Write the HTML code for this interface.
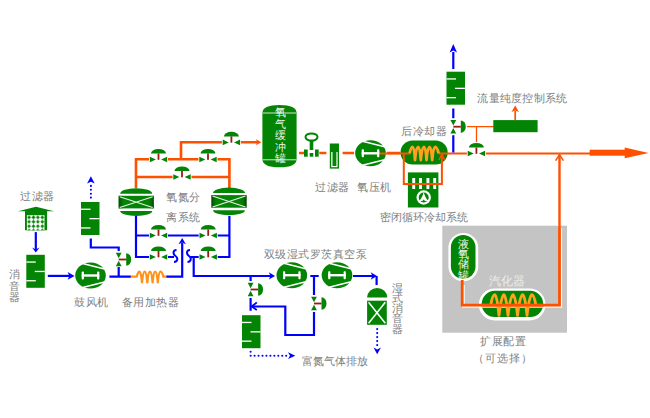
<!DOCTYPE html>
<html><head><meta charset="utf-8">
<style>
html,body{margin:0;padding:0;background:#fff;width:650px;height:418px;overflow:hidden}
svg{display:block;position:absolute;left:0;top:0}
text{font-family:"Liberation Sans",sans-serif;font-size:11px;fill:#7e7e7e;letter-spacing:0.5px}
.w{fill:#f2f6f2;letter-spacing:0}
.v{letter-spacing:0}
</style></head><body>
<svg width="650" height="418" viewBox="0 0 650 418">
<defs>
  <linearGradient id="adsg" x1="0" x2="1" y1="0" y2="0">
    <stop offset="0" stop-color="#033a03" stop-opacity="0.9"/>
    <stop offset="0.18" stop-color="#048404" stop-opacity="0"/>
    <stop offset="0.82" stop-color="#048404" stop-opacity="0"/>
    <stop offset="1" stop-color="#033a03" stop-opacity="0.9"/>
  </linearGradient>
  <pattern id="mesh" patternUnits="userSpaceOnUse" x="26.9" y="215.2" width="4.4" height="4.4">
    <rect x="0" y="0" width="4.4" height="4.4" fill="#fff"/>
    <path d="M2.2,0.3 L4.1,2.2 L2.2,4.1 L0.3,2.2Z" fill="#048404"/>
  </pattern>
  <!-- horizontal valve: centered at 0,0 on pipe -->
  <g id="vh">
    <rect x="-9.5" y="-2" width="19" height="4" fill="#fff"/>
    <path d="M-7.5,-6 A7.5,4.6 0 0 1 7.5,-6 Z" fill="#048404"/>
    <rect x="-0.9" y="-6" width="1.8" height="6.3" fill="#9a1c14"/>
    <path d="M-8.7,-2.8 L-2.6,0 L-8.7,2.8 Z M8.7,-2.8 L2.6,0 L8.7,2.8 Z" fill="#048404"/>
  </g>
  <!-- vertical valve with dome on right -->
  <g id="vv">
    <rect x="-2" y="-8.5" width="4" height="17" fill="#fff"/>
    <path d="M7.5,-6.2 A5,6.2 0 0 1 7.5,6.2 Z" fill="#048404"/>
    <rect x="0" y="-0.9" width="7.5" height="1.8" fill="#9a1c14"/>
    <path d="M-2.9,-6.8 L0,-1.3 L2.9,-6.8 Z M-2.9,6.8 L0,1.3 L2.9,6.8 Z" fill="#048404"/>
  </g>
  <!-- muffler 18x33 -->
  <g id="muf">
    <rect x="0" y="0" width="18.5" height="33" fill="#048404"/>
    <rect x="0" y="6.6" width="9.5" height="1.3" fill="#fff"/>
    <rect x="8.5" y="16" width="10" height="1.3" fill="#fff"/>
    <rect x="0" y="25.3" width="9.5" height="1.3" fill="#fff"/>
  </g>
  <!-- blower / compressor centered -->
  <g id="blw">
    <ellipse cx="0" cy="0" rx="15.3" ry="13" fill="#048404"/>
    <path d="M-8,-12 L16,-6 M-8,12 L16,6" stroke="#fff" stroke-width="1.4" fill="none"/>
    <rect x="-8.8" y="-1.2" width="17.6" height="2.4" fill="#fff"/>
    <rect x="-8.8" y="-4" width="2.2" height="8" rx="0.8" fill="#fff"/>
    <rect x="6.6" y="-4" width="2.2" height="8" rx="0.8" fill="#fff"/>
  </g>
  <!-- adsorber centered at box center -->
  <g id="ads">
    <path d="M-16,-8.5 A16,5.6 0 0 1 16,-8.5 Z" fill="#048404"/>
    <path d="M-16,8.7 A16,5 0 0 0 16,8.7 Z" fill="#048404"/>
    <rect x="-17.5" y="-6.5" width="35" height="12.6" fill="#048404"/>
    <rect x="-17.5" y="-6.5" width="35" height="12.6" fill="url(#adsg)"/>
    <path d="M-16.5,-5.5 L16.5,5.3 M-16.5,5.3 L16.5,-5.5" stroke="#e8f0e8" stroke-width="1.1"/>
  </g>
</defs>

<!-- ===== left: filter, muffler, blower ===== -->
<text x="20" y="199.5">过滤器</text>
<path d="M18,211.2 L36,206.8 L54,211.2 L47.1,211.2 L47.1,230.3 L25,230.3 L25,211.2 Z" fill="#048404"/>
<rect x="26.9" y="215.2" width="17.6" height="15.1" fill="url(#mesh)"/>
<path d="M35.8,232.1 L35.8,250" stroke="#0000ff" stroke-width="2.2"/>
<path d="M32,247.6 L35.8,252.4 L39.6,247.6 L35.8,249.4 Z" fill="#0000ff"/>
<use href="#muf" x="26.3" y="254.8"/>
<text class="v" x="8.5" y="278">消</text><text class="v" x="8.5" y="289.5">音</text><text class="v" x="8.5" y="301">器</text>
<path d="M47.8,275.9 L71,275.9" stroke="#0000ff" stroke-width="2.2"/>
<path d="M67.6,272 L74.6,275.9 L67.6,279.7 L69.4,275.9 Z" fill="#0000ff"/>
<use href="#blw" x="90.5" y="275.5"/>
<text x="74" y="305.7">鼓风机</text>

<!-- muffler 2 + dotted arrow -->
<use href="#muf" x="81" y="202"/>
<path d="M90.9,197.6 L90.9,185.9" stroke="#0000ff" stroke-width="2.1" stroke-dasharray="0,3.9" stroke-linecap="round"/>
<path d="M87.1,183.6 L90.9,176.3 L94.7,183.6 L90.9,181.8 Z" fill="#0000ff"/>
<path d="M90.8,238.5 L90.8,247.5 L118.7,247.5 L118.7,252" stroke="#0000ff" stroke-width="2.2" fill="none"/>
<use href="#vv" x="118.7" y="259.5"/>
<path d="M118.7,267 L118.7,276.6 M109.4,276.6 L131,276.6" stroke="#0000ff" stroke-width="2.2" fill="none"/>
<!-- heater coil -->
<path d="M130.6,276.6 L136.8,276.6 Q138,271.6 139.5,271.6 Q141,271.6 142,282.4 Q143,271.6 144.7,271.6 Q146.3,271.6 147.3,282.4 Q148.3,271.6 150,271.6 Q151.6,271.6 152.6,282.4 Q153.6,271.6 155.2,271.6 Q156.8,271.6 157.8,282.4 Q158.8,271.6 160.4,271.6 Q162,271.6 163.4,276.6 L167,276.6" stroke="#ff9218" stroke-width="2.3" fill="none" stroke-linejoin="round"/>
<path d="M166.5,276.6 L182.2,276.6 L182.2,243" stroke="#0000ff" stroke-width="2.2" fill="none"/>
<path d="M178.5,244.3 L182.2,238 L185.9,244.3 L182.2,242.6 Z" fill="#0000ff"/>
<text x="121.6" y="305.7">备用加热器</text>

<!-- ===== adsorbers and valve bank ===== -->
<path d="M136,188 L136,159.3 L229.4,159.3 L229.4,188 M136,177 L229.4,177 M181,159.3 L181,142.3 L257.5,142.3" stroke="#ff5000" stroke-width="2.6" fill="none"/>
<path d="M256,139.3 L261.4,142.3 L256,145.3 L257.2,142.3 Z" fill="#ff5000"/>
<use href="#vh" x="158.5" y="159.5"/>
<use href="#vh" x="208" y="159.5"/>
<use href="#vh" x="182" y="177"/>
<use href="#vh" x="231.4" y="142.4"/>
<use href="#ads" x="136.2" y="202.3"/>
<use href="#ads" x="229" y="201.6"/>
<text x="166" y="201">氧氮分</text>
<text x="166" y="220.5">离系统</text>

<path d="M136,216 L136,257 L174,257 M136,235.5 L229.4,235.5 M229.4,216 L229.4,257 L190,257 M193.7,257 L193.7,276 L271,276" stroke="#0000ff" stroke-width="2.2" fill="none"/>
<path d="M176.5,250 C173,250 172.5,254 175.5,256 C178.5,258 177.5,262 174,262" stroke="#0000ff" stroke-width="2" fill="none"/>
<path d="M190,250 C186.5,250 186,254 189,256 C192,258 191,262 187.5,262" stroke="#0000ff" stroke-width="2" fill="none"/>
<use href="#vh" x="158.5" y="235.5"/>
<use href="#vh" x="208.2" y="235.5"/>
<use href="#vh" x="158.5" y="257"/>
<use href="#vh" x="208.2" y="257"/>
<path d="M268.8,272.2 L275.1,275.9 L268.8,279.6 L270.5,275.9 Z" fill="#0000ff"/>

<!-- ===== vacuum pumps ===== -->
<text x="263.5" y="257.7">双级湿式罗茨真空泵</text>
<use href="#blw" x="291.8" y="275.2"/>
<use href="#blw" x="337" y="275.2"/>
<path d="M310.3,276 L318.7,276 M314,276 L314,296 M314,311 L314,335 L285.3,335 L285.3,306.5 L252,306.5" stroke="#0000ff" stroke-width="2.2" fill="none"/>
<use href="#vv" x="314" y="303.5"/>
<path d="M256.8,302.6 L251.6,306.4 L256.8,310" stroke="#0000ff" stroke-width="1.8" fill="none"/>
<path d="M250.6,276 L250.6,282 M250.6,297 L250.6,310.7" stroke="#0000ff" stroke-width="2.2" fill="none"/>
<use href="#vv" x="250.6" y="289.5"/>
<use href="#muf" x="242" y="315.2"/>
<path d="M250.6,351.8 L250.6,355.7 L287,355.7" stroke="#0000ff" stroke-width="2.1" stroke-dasharray="0,3.95" stroke-linecap="round" fill="none"/>
<path d="M288,352.3 L295.3,355.7 L288,359.1 L290,355.7 Z" fill="#0000ff"/>
<text x="301.5" y="365" style="letter-spacing:0">富氮气体排放</text>

<path d="M353,276 L373,276 M376.6,276 L376.6,285" stroke="#0000ff" stroke-width="2.2" fill="none"/>
<path d="M370.7,272.3 L377,276 L370.7,279.7 L372.4,276 Z" fill="#0000ff"/>
<!-- wet silencer -->
<path d="M367.1,297.6 A10.1,9.6 0 0 1 387.3,297.6 Z" fill="#048404"/>
<rect x="367.1" y="300.7" width="19.7" height="24.1" fill="#048404"/>
<path d="M368.6,302.2 L385.3,323.3 M385.3,302.2 L368.6,323.3" stroke="#fff" stroke-width="1.5"/>
<path d="M377.2,329.1 L377.2,345.2" stroke="#0000ff" stroke-width="2.1" stroke-dasharray="0,4" stroke-linecap="round"/>
<path d="M373.5,347.6 L377.2,354.3 L380.9,347.6 L377.2,349.5 Z" fill="#0000ff"/>
<text class="v" x="391.5" y="291.5">湿</text><text class="v" x="391.5" y="301.8">式</text><text class="v" x="391.5" y="312.1">消</text><text class="v" x="391.5" y="322.4">音</text><text class="v" x="391.5" y="332.7">器</text>

<!-- ===== buffer tank ===== -->
<path d="M262.4,113 Q262.4,105 279.5,105 Q296.6,105 296.6,113 L296.6,159 Q296.6,167.3 279.5,167.3 Q262.4,167.3 262.4,159 Z" fill="#048404"/>
<rect x="262.4" y="112.3" width="34.2" height="1.4" fill="#9cc89c"/>
<rect x="262.4" y="159" width="34.2" height="1.4" fill="#9cc89c"/>
<text class="w" x="274.5" y="116.3">氧</text><text class="w" x="274.5" y="127.7">气</text><text class="w" x="274.5" y="139.1">缓</text><text class="w" x="274.5" y="150.5">冲</text><text class="w" x="274.5" y="161.9">罐</text>

<!-- key valve, filter, compressor -->
<path d="M299,153 L304.3,153 M319.3,153 L326.4,153 M342.6,153 L354,153 M387,153 L400,153" stroke="#ff5000" stroke-width="2.6"/>
<ellipse cx="311.5" cy="137" rx="6" ry="3.6" fill="none" stroke="#048404" stroke-width="2"/>
<rect x="309.7" y="140" width="3.6" height="10" fill="#048404"/>
<rect x="304" y="149.5" width="3.7" height="7.2" fill="#048404"/>
<rect x="309.7" y="153" width="3.6" height="3.7" fill="#048404"/>
<rect x="315" y="149.5" width="3.7" height="7.2" fill="#048404"/>
<rect x="329.8" y="143.5" width="9.2" height="25.1" fill="#048404"/>
<rect x="331.2" y="152" width="6.4" height="15.2" fill="#fff"/>
<rect x="332.5" y="152" width="3.9" height="14" fill="#048404"/>
<text x="315" y="191">过滤器</text>
<use href="#blw" x="370.5" y="153.3"/>
<text x="357" y="191">氧压机</text>

<!-- ===== cooler ===== -->
<text x="401" y="135">后冷却器</text>
<rect x="400.5" y="140.5" width="47.2" height="24" rx="12" fill="#048404"/>
<path d="M380,153.5 L409.6,153.5 M438.7,153.5 L600,153.5" stroke="#ff5000" stroke-width="2.2"/>
<path d="M403.8,153.5 L403.8,184 L441.9,184 L441.9,155" stroke="#ff5000" stroke-width="2" fill="none"/>
<path d="M409.6,153.5 Q411,147 412.6,147 Q414.3,147 415,160 Q416,147 418.2,147 Q420,147 420.8,160 Q421.8,147 424,147 Q425.8,147 426.5,160 Q427.5,147 429.6,147 Q431.4,147 432.2,160 Q433.2,147 435.2,147 Q437,147 438.7,153.5" stroke="#ffa020" stroke-width="2.8" fill="none" stroke-linejoin="round"/>
<path d="M438.9,160 L441.9,154.3 L444.9,160" stroke="#ff5000" stroke-width="1.4" fill="none"/>
<rect x="407.9" y="172.4" width="30.5" height="35.1" fill="#048404"/>
<path d="M413.7,178 L413.7,189 M420.5,178 L420.5,189 M427.9,178 L427.9,189 M434.7,178 L434.7,189" stroke="#fff" stroke-width="2.9"/>
<path d="M403.8,184 L441.9,184" stroke="#ff5000" stroke-width="2"/>
<circle cx="423.7" cy="197.5" r="7.2" fill="#fff"/>
<circle cx="423.7" cy="197.5" r="5" fill="#048404"/>
<path d="M423.7,192 Q425.2,198 428.3,201 L425,201 L423.7,199.6 L422.4,201 L419.1,201 Q422.2,198 423.7,192 Z" fill="#fff"/>
<text x="379.8" y="220.7" style="letter-spacing:0.05px">密闭循环冷却系统</text>

<!-- flow control branch -->
<use href="#muf" x="446.5" y="71.7"/>
<path d="M453.3,69 L453.3,52" stroke="#0000ff" stroke-width="2.2"/>
<path d="M449.6,52.4 L453.3,44 L457,52.4 L453.3,50.6 Z" fill="#0000ff"/>
<path d="M453.3,108.6 L453.3,119 M453.3,134.5 L453.3,152.4" stroke="#0000ff" stroke-width="2.2"/>
<use href="#vv" x="453.3" y="126.7"/>
<path d="M467,126.6 L494,126.6 M476.5,126.6 L476.5,142" stroke="#ff5000" stroke-width="1.3" fill="none"/>
<rect x="493.3" y="120.1" width="44.3" height="12.1" fill="#048404"/>
<path d="M515.2,120 L515.2,111" stroke="#ff5000" stroke-width="1.7"/>
<path d="M511.5,112 L515.2,105.6 L518.9,112 L515.2,110.4 Z" fill="#ff5000"/>
<text x="477.3" y="102.2" style="letter-spacing:0.3px">流量纯度控制系统</text>
<use href="#vh" x="476.4" y="153.5"/>

<!-- big arrow out -->
<rect x="589.7" y="149.7" width="36" height="6" fill="#ff5000"/>
<path d="M624.7,147.5 L648.6,152.9 L624.7,158.3 Z" fill="#ff5000"/>

<!-- ===== expansion box ===== -->
<rect x="442.3" y="225.7" width="124.7" height="107" fill="#c4c4c4"/>
<path d="M559.5,228 L559.5,155" stroke="#ff5000" stroke-width="2.4"/>
<path d="M555.6,160.6 L559.5,154.6 L563.4,160.6" stroke="#ff5000" stroke-width="1.6" fill="none"/>
<rect x="448.4" y="232.9" width="29.8" height="48.4" rx="14.9" fill="#fff"/>
<rect x="450.9" y="235" width="24.6" height="43.9" rx="12.3" fill="#048404"/>
<text class="w" x="458" y="247.6">液</text><text class="w" x="458" y="257.9">氧</text><text class="w" x="458" y="268.2">储</text><text class="w" x="458" y="278.5">罐</text>
<rect x="478.8" y="288.6" width="66.7" height="31.8" rx="15.9" fill="#fff"/>
<rect x="481.7" y="290.8" width="61.5" height="26.2" rx="13.1" fill="#048404"/>
<path d="M463.5,285 L463.5,306.5 L560.8,306.5 L560.8,228" stroke="#fff" stroke-width="2.6" fill="none" opacity="0.9"/>
<path d="M462.2,280 L462.2,305.2 L559.5,305.2 L559.5,228" stroke="#ff5000" stroke-width="2.8" fill="none"/>

<path d="M490.8,305 Q492.5,294.8 494.8,294.8 Q497,294.8 499,315.3 Q501.5,294.8 503.9,294.8 Q506,294.8 508,315.3 Q510.5,294.8 513,294.8 Q515.3,294.8 517.5,315.3 Q520,294.8 522.7,294.8 Q525,294.8 527,315.3 Q529.5,294.8 531.8,294.8 Q534,294.8 535.8,305" stroke="#ffa21f" stroke-width="2.9" fill="none" stroke-linejoin="round"/>
<path d="M481,305.2 L544,305.2" stroke="#ff5000" stroke-width="2.8"/>
<text class="w" x="488.5" y="284.8" style="fill:#ececec;font-size:12.3px">汽化器</text>
<text x="480" y="344.6">扩展配置</text>
<text x="473" y="361.6" style="letter-spacing:1.05px">（可选择）</text>
</svg>
</body></html>
